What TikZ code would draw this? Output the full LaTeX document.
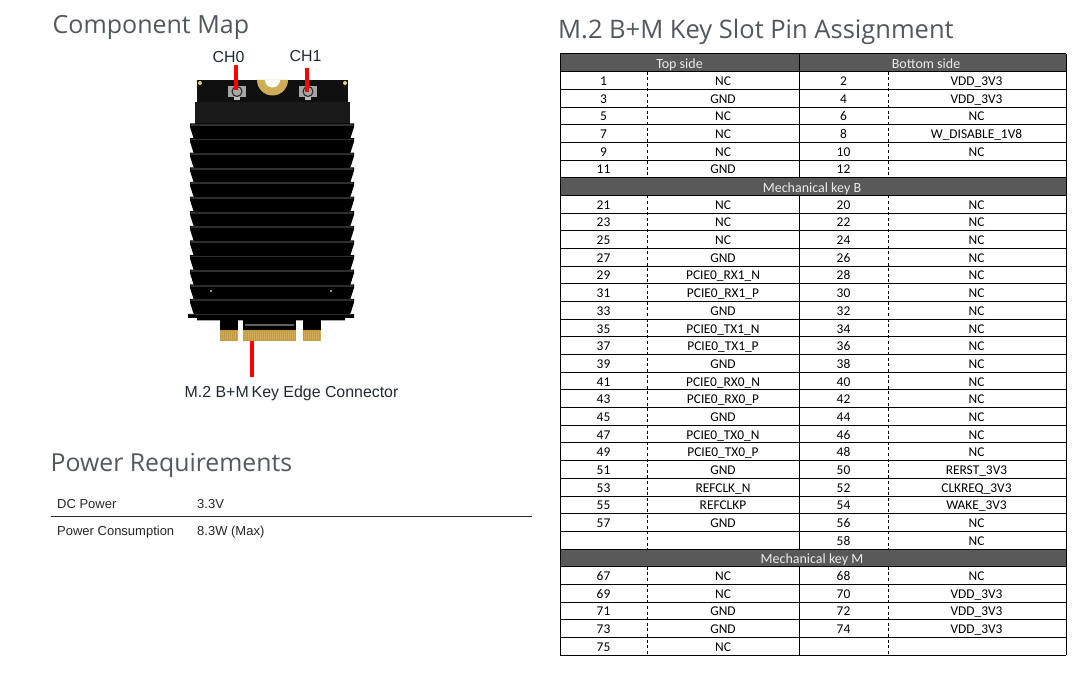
\documentclass[tikz,border=0pt]{standalone}
\usepackage{fontspec}
\setmainfont{Liberation Sans}
\newfontfamily\tablefont{Carlito}
\newfontfamily\titlefont{Open Sans}
\definecolor{titlegrey}{HTML}{53585E}
\definecolor{headgrey}{HTML}{595959}
\definecolor{labelink}{HTML}{1F2A36}
\definecolor{gold}{HTML}{C29A45}
\definecolor{goldpale}{HTML}{E6CF7A}
\definecolor{finline}{HTML}{2E2E2E}
\definecolor{blockgrey}{HTML}{1A1A1A}
\tikzset{
  x=1pt,y=-1pt,
  title/.style={anchor=base west,inner sep=0pt,text=titlegrey,font=\titlefont\fontsize{25}{28}\selectfont},
  callout/.style={anchor=base,inner sep=0pt,text=labelink,font=\fontsize{15.9}{18}\selectfont},
  spec/.style={anchor=base west,inner sep=0pt,text=black!85,font=\fontsize{13}{15}\selectfont},
  cell/.style={anchor=base,inner sep=0pt,font=\tablefont\fontsize{13.4}{15}\selectfont},
  headcell/.style={cell,text=white!92!black,font=\tablefont\fontsize{14}{15}\selectfont},
  marker/.style={draw=red,line width=3.6pt},
  rowline/.style={draw=black,line width=1pt},
  dashline/.style={draw=black,line width=0.9pt,dash pattern=on 3pt off 2.6pt},
}
\begin{document}
\begin{tikzpicture}
\useasboundingbox (0,0) rectangle (1090,676);
\fill[white] (0,0) rectangle (1090,676);

% titles
\node[title] (tcomp) at (52.5,34) {Component Map};
\node[title,font=\titlefont\fontsize{24.8}{28}\selectfont] (tpower) at (50.5,471) {Power Requirements};
\node[title,font=\titlefont\fontsize{25.5}{28}\selectfont] (tslot) at (558,38.5) {M.2 B+M Key Slot Pin Assignment};

% module: gold fingers
\fill[black] (220,320) rectangle (237.5,330);
\fill[black] (243,320) rectangle (296,330);
\fill[black] (303,320) rectangle (321,330);
\fill[gold] (220,330) rectangle (237.5,341);
\fill[gold] (243,330) rectangle (296,341);
\fill[gold] (303,330) rectangle (321,341);
\foreach \k in {0,2,...,50} \fill[goldpale!35!gold] (244+\k,331) rectangle +(0.9,9.5);
\foreach \k in {0,2,...,16} {
  \fill[goldpale!35!gold] (220.5+\k,331) rectangle +(0.9,9.5);
  \fill[goldpale!35!gold] (303.5+\k,331) rectangle +(0.9,9.5);
}
\fill[gray!75!black] (245,324) rectangle (294,326.5);
% module: PCB and block
\fill[blockgrey!60!black] (197,80) rectangle (348,104);
\fill[blockgrey] (195,102) rectangle (350,124);
% gold notch and pads
\fill[gold!65!goldpale] (257,80) arc[start angle=180,end angle=0,radius=15.5] -- cycle;
\fill[white] (265,80) arc[start angle=180,end angle=0,radius=7.5] -- cycle;
\fill[goldpale] (200,83) circle[radius=2];
\fill[goldpale] (345,83) circle[radius=2];
% connectors
\foreach \cx in {237,308} {
  \fill[gray!70] (\cx-9,86) rectangle (\cx+9,97);
  \fill[gray!50] (\cx-3,97) rectangle (\cx+3,100);
  \draw[gray!30!black,line width=1pt] (\cx,91.5) circle[radius=5];
}
% fins
\fill[black] (194,124) rectangle (350,314);
\foreach \k in {0,...,12} {
  \pgfmathsetmacro\fy{124+14.62*\k}
  \fill[black] (190,\fy-0.5) -- (354,\fy-0.5) -- (354,\fy+3) -- (350.5,\fy+14) -- (193.5,\fy+14) -- (190,\fy+3) -- cycle;
  \fill[finline] (191,\fy) rectangle (353,\fy+1.8);
}
\fill[black] (188,314) -- (354,314) -- (354,318) -- (345,318) -- (345,320.5) -- (197,320.5) -- (197,318) -- (188,318) -- cycle;
\fill[finline] (189,314.5) rectangle (353,315.5);
\fill[gray!40] (211,291) circle[radius=1.2];
\fill[gray!40] (331,291) circle[radius=1.2];

% callouts
\node[callout] (ch0) at (228.5,63) {CH0};
\node[callout] (ch1) at (305.5,62) {CH1};
\node[callout,anchor=base west] (edge) at (184.5,397) {M.2 B+M\hspace{-1.5pt} Key Edge Connector};
\coordinate (ch0tip) at (236,90);
\coordinate (ch1tip) at (307,92);
\coordinate (edgetip) at (252,341);
\draw[marker] (ch0tip) -- (ch0tip |- 0,65);
\draw[marker] (ch1tip) -- (ch1tip |- 0,68);
\draw[marker] (edgetip) -- (edgetip |- 0,377);

% power table
\node[spec] (pa) at (57,508) {DC Power};
\node[spec] (pb) at (197,508) {3.3V};
\node[spec] (pc) at (57,535) {Power Consumption};
\node[spec] (pd) at (197,535) {8.3W (Max)};
\coordinate (ruleL) at (50.5,516.5);
\coordinate (ruleR) at (531.5,516.5);
\draw[black!85,line width=1.8pt] (ruleL) -- (ruleR);

% pin table
\def\rh{17.68}
\def\ty{54}
\def\xa{560}\def\xb{647}\def\xc{799}\def\xd{888}\def\xe{1066}
\foreach \r in {0,7,28} \fill[headgrey] (\xa,\ty+\r*\rh) rectangle (\xe,\ty+\r*\rh+\rh);
\foreach \r in {0,...,34} \draw[rowline] (\xa,\ty+\r*\rh) -- (\xe,\ty+\r*\rh);
\draw[rowline] (\xa,\ty) -- (\xa,\ty+34*\rh);
\draw[rowline] (\xe,\ty) -- (\xe,\ty+34*\rh);
\draw[rowline] (\xc,\ty) -- (\xc,\ty+7*\rh);
\draw[rowline] (\xc,\ty+8*\rh) -- (\xc,\ty+28*\rh);
\draw[rowline] (\xc,\ty+29*\rh) -- (\xc,\ty+34*\rh);
\foreach \xx in {\xb,\xd} {
  \draw[dashline] (\xx,\ty+\rh) -- (\xx,\ty+7*\rh);
  \draw[dashline] (\xx,\ty+8*\rh) -- (\xx,\ty+28*\rh);
  \draw[dashline] (\xx,\ty+29*\rh) -- (\xx,\ty+34*\rh);
}
\node[headcell] (htop) at (679.5,\ty+0.5*\rh+5.5) {Top side};
\node[headcell] (hbot) at (926,\ty+0.5*\rh+5.5) {Bottom side};
\node[headcell] (hkeyb) at (812,\ty+7.5*\rh+5.5) {Mechanical key B};
\node[headcell] (hkeym) at (812,\ty+28.5*\rh+6) {Mechanical key M};
\foreach \r/\pa/\sa/\pb/\sb in {
  1/1/NC/2/VDD\_3V3,
  2/3/GND/4/VDD\_3V3,
  3/5/NC/6/NC,
  4/7/NC/8/W\_DISABLE\_1V8,
  5/9/NC/10/NC,
  6/11/GND/12/{},
  8/21/NC/20/NC,
  9/23/NC/22/NC,
  10/25/NC/24/NC,
  11/27/GND/26/NC,
  12/29/PCIE0\_RX1\_N/28/NC,
  13/31/PCIE0\_RX1\_P/30/NC,
  14/33/GND/32/NC,
  15/35/PCIE0\_TX1\_N/34/NC,
  16/37/PCIE0\_TX1\_P/36/NC,
  17/39/GND/38/NC,
  18/41/PCIE0\_RX0\_N/40/NC,
  19/43/PCIE0\_RX0\_P/42/NC,
  20/45/GND/44/NC,
  21/47/PCIE0\_TX0\_N/46/NC,
  22/49/PCIE0\_TX0\_P/48/NC,
  23/51/GND/50/RERST\_3V3,
  24/53/REFCLK\_N/52/CLKREQ\_3V3,
  25/55/REFCLKP/54/WAKE\_3V3,
  26/57/GND/56/NC,
  27/{}/{}/58/NC,
  29/67/NC/68/NC,
  30/69/NC/70/VDD\_3V3,
  31/71/GND/72/VDD\_3V3,
  32/73/GND/74/VDD\_3V3,
  33/75/NC/{}/{}%
} {
  \pgfmathsetmacro\by{\ty+(\r+0.5)*\rh+5}
  \node[cell] (pa\r) at (603.5,\by) {\pa};
  \node[cell] (sa\r) at (723,\by) {\sa};
  \node[cell] (pb\r) at (843.5,\by) {\pb};
  \node[cell] (sb\r) at (976.5,\by) {\sb};
}
\end{tikzpicture}
\end{document}
